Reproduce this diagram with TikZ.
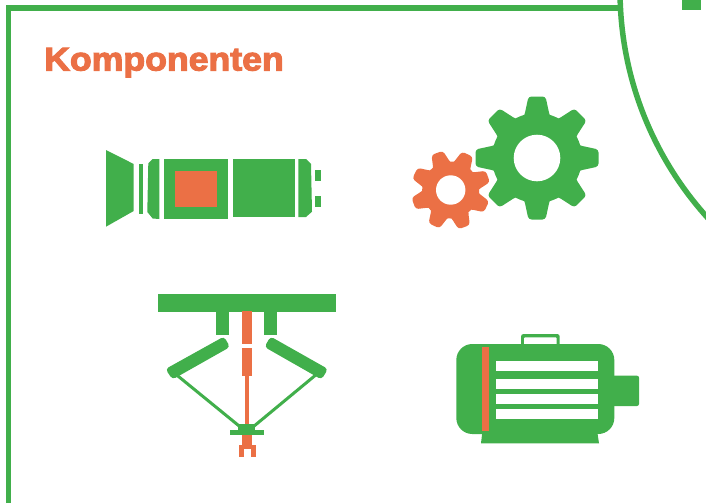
\documentclass[tikz,border=0pt]{standalone}
\usepackage{fontspec}
\setmainfont{Liberation Sans}
\newfontfamily\ktitle[FakeBold=3.2]{Liberation Sans Bold}
\definecolor{kgreen}{HTML}{41AF4B}
\definecolor{korange}{HTML}{EB7045}
\tikzset{
  gr/.style={fill=kgreen,draw=none},
  og/.style={fill=korange,draw=none},
  frameline/.style={draw=kgreen,line width=5.5pt},
  thinrod/.style={draw=kgreen,line width=3pt},
  arm/.style={fill=kgreen,draw=none,rounded corners=3.5pt},
}
\newcommand{\kgear}[9]{%
  % x y colour bodyr tipr halfbase halftip offset holer
  \begin{scope}[shift={(#1,#2)}]
    \fill[#3] (0,0) circle[radius=#4];
    \foreach \a in {0,45,...,315}{
      \fill[#3,rotate=\a+#8,rounded corners=3pt]
        (#4-8,-#6-3) -- (#4-2,-#6) -- (#5,-#7) -- (#5,#7) -- (#4-2,#6) -- (#4-8,#6+3) -- cycle;
    }
    \fill[white] (0,0) circle[radius=#9];
  \end{scope}}
\begin{document}
\begin{tikzpicture}[x=1pt,y=-1pt]
\useasboundingbox (0,0) rectangle (706,503);
\begin{scope}
\clip (0,0) rectangle (706,503);
% frame
\draw[frameline] (8.5,503) -- (8.5,8) -- (621,8);
\draw[frameline] (960,-10) circle[radius=340];
\fill[gr] (682.3,0) rectangle (701.3,9.7);
\end{scope}
\node[anchor=base west,inner sep=0pt,text=korange,xscale=1.08] (title) at (44,70.5) {\fontsize{33}{33}\selectfont\ktitle Komponenten};
% camera
\fill[gr] (106,150) -- (133.7,164) -- (133.7,211) -- (106,226.7) -- cycle;
\fill[gr] (139,164) rectangle (143,214);
\fill[gr] (159.3,159) -- (152.7,159) -- (148.3,163.3) -- (147.3,212) -- (152.7,218.5) -- (159.3,219) -- cycle;
\fill[gr] (164,159) rectangle (228,219);
\fill[og] (175,171) rectangle (217,207);
\fill[gr] (233,159) rectangle (295,217);
\fill[gr] (298.3,159) -- (306,159) -- (311,164) -- (312,211.7) -- (306,217) -- (298.3,217) -- cycle;
\fill[gr] (315,170) rectangle (321,181);
\fill[gr] (315,196) rectangle (321,207);
% gears
\kgear{450.7}{190}{korange}{28.5}{39.5}{9}{6}{20}{14.7}
\kgear{537}{158}{kgreen}{45}{61.5}{12.5}{8.5}{0}{23.3}
% delta robot
\fill[gr] (158,294) rectangle (336,311.7);
\fill[gr] (216,311) rectangle (229,335);
\fill[gr] (264,311) rectangle (277,335);
\fill[og] (242,310.7) rectangle (252,344);
\fill[og] (242,348) rectangle (252,376);
\fill[og] (245,376) rectangle (249.3,425);
\fill[arm] (224,336.5) -- (230,347) -- (172.5,379.5) -- (165.5,369) -- cycle;
\fill[arm] (270.5,336.5) -- (264.5,347) -- (321.5,379.5) -- (328,369) -- cycle;
\draw[thinrod] (176.7,375) -- (240,426.7);
\draw[thinrod] (315.7,375) -- (253.3,426.7);
\fill[og] (242,434) rectangle (252,449);
\fill[og] (239,445) rectangle (244,457);
\fill[og] (251,445) rectangle (256,457);
\fill[og] (239,445) rectangle (256,448.5);
\fill[gr] (238,424.3) rectangle (255,431);
\fill[gr] (230,430) rectangle (264,435);
% motor
\fill[gr,rounded corners=2pt] (612,375.7) rectangle (639,406);
\fill[gr,rounded corners=2.5pt] (521,334) rectangle (559.7,350);
\fill[white,rounded corners=1pt] (524,337.3) rectangle (556.7,350);
\fill[gr] (482.3,432) -- (481,443.3) -- (599,443.3) -- (597.3,432) -- cycle;
\fill[gr,rounded corners=16pt] (456.3,344) rectangle (614.3,434);
\fill[og] (482.3,346.7) rectangle (488.7,430.7);
\fill[white] (496,361) rectangle (598,371);
\fill[white] (496,379) rectangle (598,389);
\fill[white] (496,394) rectangle (598,404);
\fill[white] (496,409) rectangle (598,419);
\end{tikzpicture}
\end{document}
